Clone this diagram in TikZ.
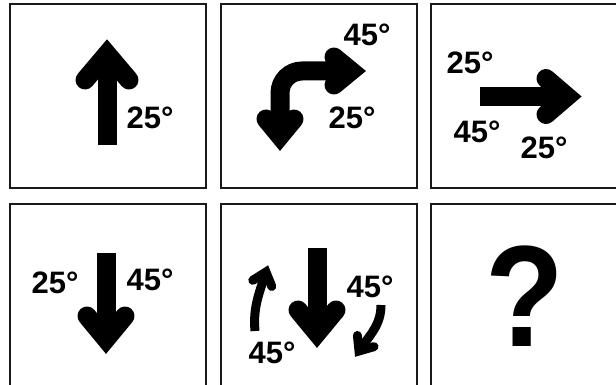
\documentclass[tikz,border=0pt]{standalone}
\usepackage{fontspec}
\setmainfont{Liberation Sans}
\begin{document}
\begin{tikzpicture}[x=1pt, y=1pt,
    panel/.style={draw=black!90, line width=2pt, minimum width=196pt, minimum height=184pt, inner sep=0pt},
    deg/.style={font=\fontsize{31}{31}\selectfont\bfseries, inner sep=0pt},
    shaft/.style={line width=19pt},
    thin shaft/.style={line width=9pt},
    pics/fathead/.style args={#1/#2}{code={\draw[line cap=round, line join=miter, miter limit=20] (-#1,-#2) -- (0,0) -- (#1,-#2);}}]
			\useasboundingbox (0,0) rectangle (616,-385);
			\clip (0,0) rectangle (616,-385);
			\fill[white] (0,0) rectangle (616,-385);

			% panels
			\node[panel] (p1) at (107.5,-96) {};
			\node[panel] (p2) at (318.5,-96) {};
			\node[panel] (p3) at (528.5,-96) {};
			\node[panel] (p4) at (107.5,-295.5) {};
			\node[panel] (p5) at (318.5,-295.5) {};
			\node[panel] (p6) at (528.5,-295.5) {};

			% panel 1
			\draw[shaft] (107,-145) -- (107,-54);
			\pic[shaft] at (107,-54) {fathead=22/26};
			\node[deg] (d1) at (150,-118) {25°};

			% panel 2
			\draw[shaft, rounded corners=22pt] (280,-136) -- (280,-71) -- (351,-71);
			\pic[shaft, rotate=180] at (280,-136) {fathead=14/17};
			\pic[shaft, rotate=-90] at (351,-71) {fathead=14/17};
			\node[deg] (d2) at (367,-35) {45°};
			\node[deg] (d3) at (352,-118) {25°};

			% panel 3
			\draw[shaft] (480,-96.5) -- (567,-96.5);
			\pic[shaft, rotate=-90] at (567,-96.5) {fathead=18/21};
			\node[deg] (d4) at (470,-63) {25°};
			\node[deg] (d5) at (477,-132) {45°};
			\node[deg] (d6) at (544,-148) {25°};

			% panel 4
			\draw[shaft] (106,-253) -- (106,-339);
			\pic[shaft, rotate=180] at (106,-339) {fathead=19/23};
			\node[deg] (d7) at (55,-283) {25°};
			\node[deg] (d8) at (150,-280) {45°};

			% panel 5
			\draw[shaft] (317,-248) -- (317,-333);
			\pic[shaft, rotate=180] at (317,-333) {fathead=19/23};
			\draw[thin shaft] (255,-331) to[out=95, in=-108] (266,-272);
			\pic[thin shaft, rotate=-18] at (266,-272) {fathead=10/12};
			\draw[thin shaft] (381,-305) to[out=-90, in=56] (359,-351);
			\pic[thin shaft, rotate=146] at (359,-351) {fathead=10/12};
			\node[deg] (d9) at (370,-287) {45°};
			\node[deg] (d10) at (272,-353) {45°};

			% panel 6
			\node[font=\fontsize{140}{140}\selectfont\bfseries, inner sep=0pt, xscale=0.92, yscale=1.03] (q) at (525,-296) {?};
\end{tikzpicture}
\end{document}
